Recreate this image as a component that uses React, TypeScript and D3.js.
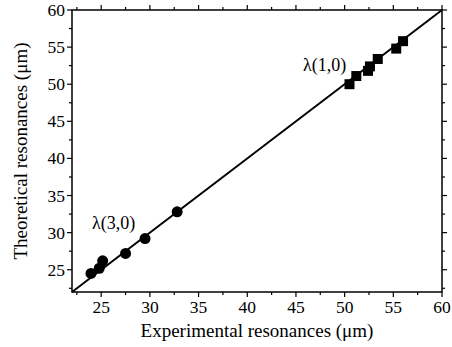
import * as d3 from "d3";

// λ(1,0) resonances: experimental vs theoretical (µm)
const expSquares = [50.5, 51.2, 52.4, 52.6, 53.4, 55.3, 56.0];
const theoSquares = [50.0, 51.1, 51.8, 52.4, 53.4, 54.8, 55.8];
// λ(3,0) resonances
const expCircles = [23.95, 24.8, 25.15, 27.5, 29.5, 32.8];
const theoCircles = [24.5, 25.2, 26.2, 27.2, 29.2, 32.8];

const majorTicks = [25, 30, 35, 40, 45, 50, 55, 60];
const minorTicks = [22.5, 27.5, 32.5, 37.5, 42.5, 47.5, 52.5, 57.5];
const fitLine = [22, 60];

const W = 452;
const H = 347;
const margin = { top: 10, right: 10, bottom: 55, left: 72 };
const font = "Liberation Serif, Times New Roman, serif";

const App = () => {
  const x = d3.scaleLinear().domain([22, 60]).range([margin.left, W - margin.right]);
  const y = d3.scaleLinear().domain([22, 60]).range([H - margin.bottom, margin.top]);
  const [x0, x1] = x.range();
  const [y0, y1] = y.range();

  const line = d3
    .line<number>()
    .x((d) => x(d))
    .y((d) => y(d));

  const sq = 10;
  const major = 5;
  const minor = 3;

  return (
    <svg width={W} height={H} style={{ position: "absolute", left: 0, top: 0, background: "#fff" }}>
      {/* fit line y = x */}
      <path d={line(fitLine) || ""} stroke="#000" strokeWidth={2} fill="none" />

      {/* frame */}
      <rect x={x0} y={y1} width={x1 - x0} height={y0 - y1} fill="none" stroke="#000" strokeWidth={1.5} />

      {/* ticks, all outward */}
      {majorTicks.map((t) => (
        <g key={"M" + t} stroke="#000" strokeWidth={1.2}>
          <line x1={x(t)} x2={x(t)} y1={y0} y2={y0 + major} />
          <line x1={x(t)} x2={x(t)} y1={y1} y2={y1 - major} />
          <line x1={x0} x2={x0 - major} y1={y(t)} y2={y(t)} />
          <line x1={x1} x2={x1 + major} y1={y(t)} y2={y(t)} />
        </g>
      ))}
      {minorTicks.map((t) => (
        <g key={"m" + t} stroke="#000" strokeWidth={1.2}>
          <line x1={x(t)} x2={x(t)} y1={y0} y2={y0 + minor} />
          <line x1={x(t)} x2={x(t)} y1={y1} y2={y1 - minor} />
          <line x1={x0} x2={x0 - minor} y1={y(t)} y2={y(t)} />
          <line x1={x1} x2={x1 + minor} y1={y(t)} y2={y(t)} />
        </g>
      ))}

      <g fontFamily={font} fill="#000">
        {/* tick labels */}
        {majorTicks.map((t) => (
          <text key={"xl" + t} x={x(t)} y={y0 + 21} textAnchor="middle" fontSize={17.5}>
            {t}
          </text>
        ))}
        {majorTicks.map((t) => (
          <text key={"yl" + t} x={x0 - 7} y={y(t) + 6} textAnchor="end" fontSize={17.5}>
            {t}
          </text>
        ))}

        {/* annotations */}
        <text x={303} y={71} fontSize={18}>λ(1,0)</text>
        <text x={92} y={229} fontSize={18}>λ(3,0)</text>

        {/* axis titles */}
        <text x={(x0 + x1) / 2} y={337} textAnchor="middle" fontSize={19}>
          Experimental resonances (μm)
        </text>
        <text transform={`translate(27,${(y0 + y1) / 2}) rotate(-90)`} textAnchor="middle" fontSize={19}>
          Theoretical resonances (μm)
        </text>
      </g>

      {/* data */}
      {expSquares.map((e, i) => (
        <rect key={"s" + i} x={x(e) - sq / 2} y={y(theoSquares[i]) - sq / 2} width={sq} height={sq} fill="#000" />
      ))}
      {expCircles.map((e, i) => (
        <circle key={"c" + i} cx={x(e)} cy={y(theoCircles[i])} r={5.5} fill="#000" />
      ))}
    </svg>
  );
};

export default App;
